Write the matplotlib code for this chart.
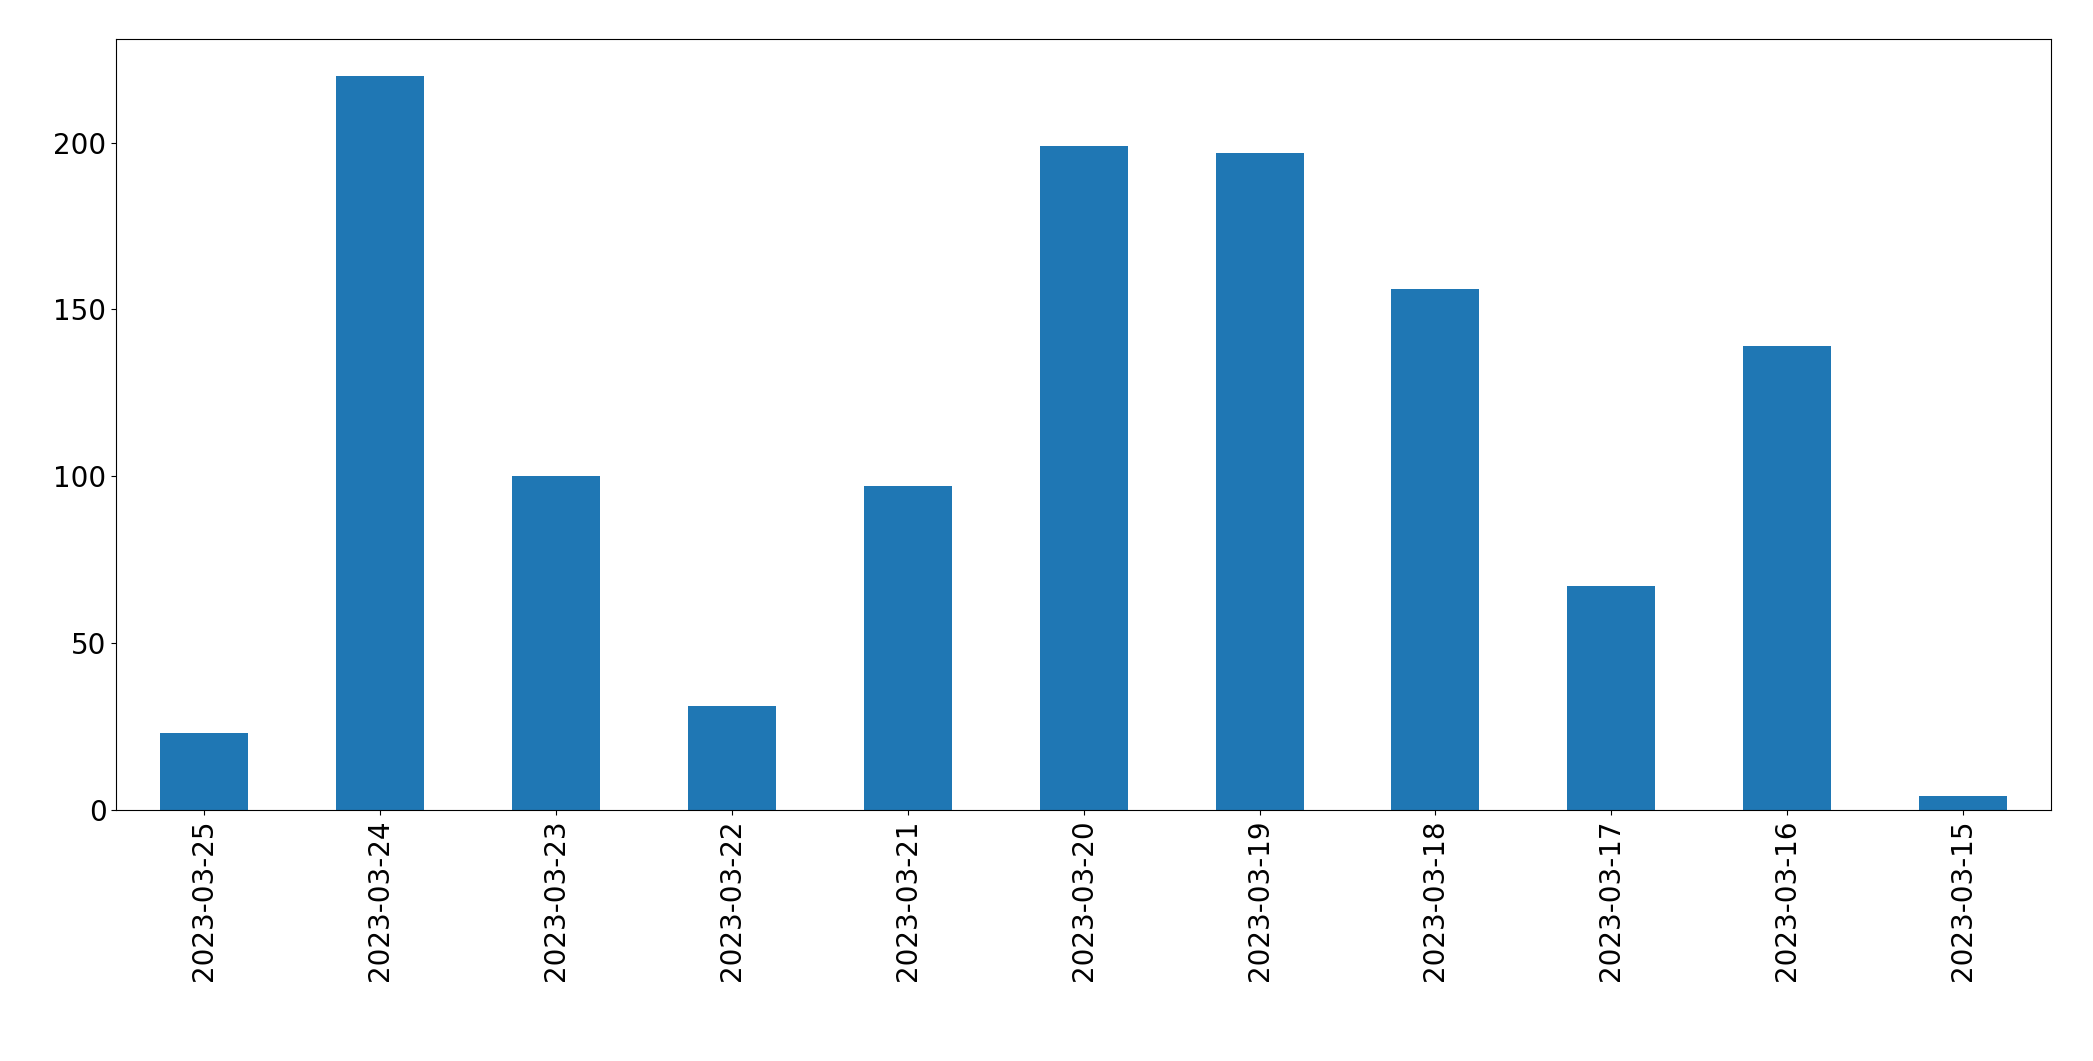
import matplotlib.pyplot as plt

dates = ['2023-03-25', '2023-03-24', '2023-03-23', '2023-03-22', '2023-03-21',
         '2023-03-20', '2023-03-19', '2023-03-18', '2023-03-17', '2023-03-16',
         '2023-03-15']
counts = [23, 220, 100, 31, 97, 199, 197, 156, 67, 139, 4]

fig, ax = plt.subplots(figsize=(20.93, 10.61), dpi=100)
ax.bar(range(len(dates)), counts, width=0.5, color='#1f77b4')
ax.set_xticks(range(len(dates)))
ax.set_xticklabels(dates, rotation=90)
ax.set_xlim(-0.5, len(dates) - 0.5)
ax.set_ylim(0, 231)
ax.tick_params(labelsize=20)
fig.subplots_adjust(left=0.0555, right=0.98, top=0.963, bottom=0.237)
fig.savefig('out.png')
